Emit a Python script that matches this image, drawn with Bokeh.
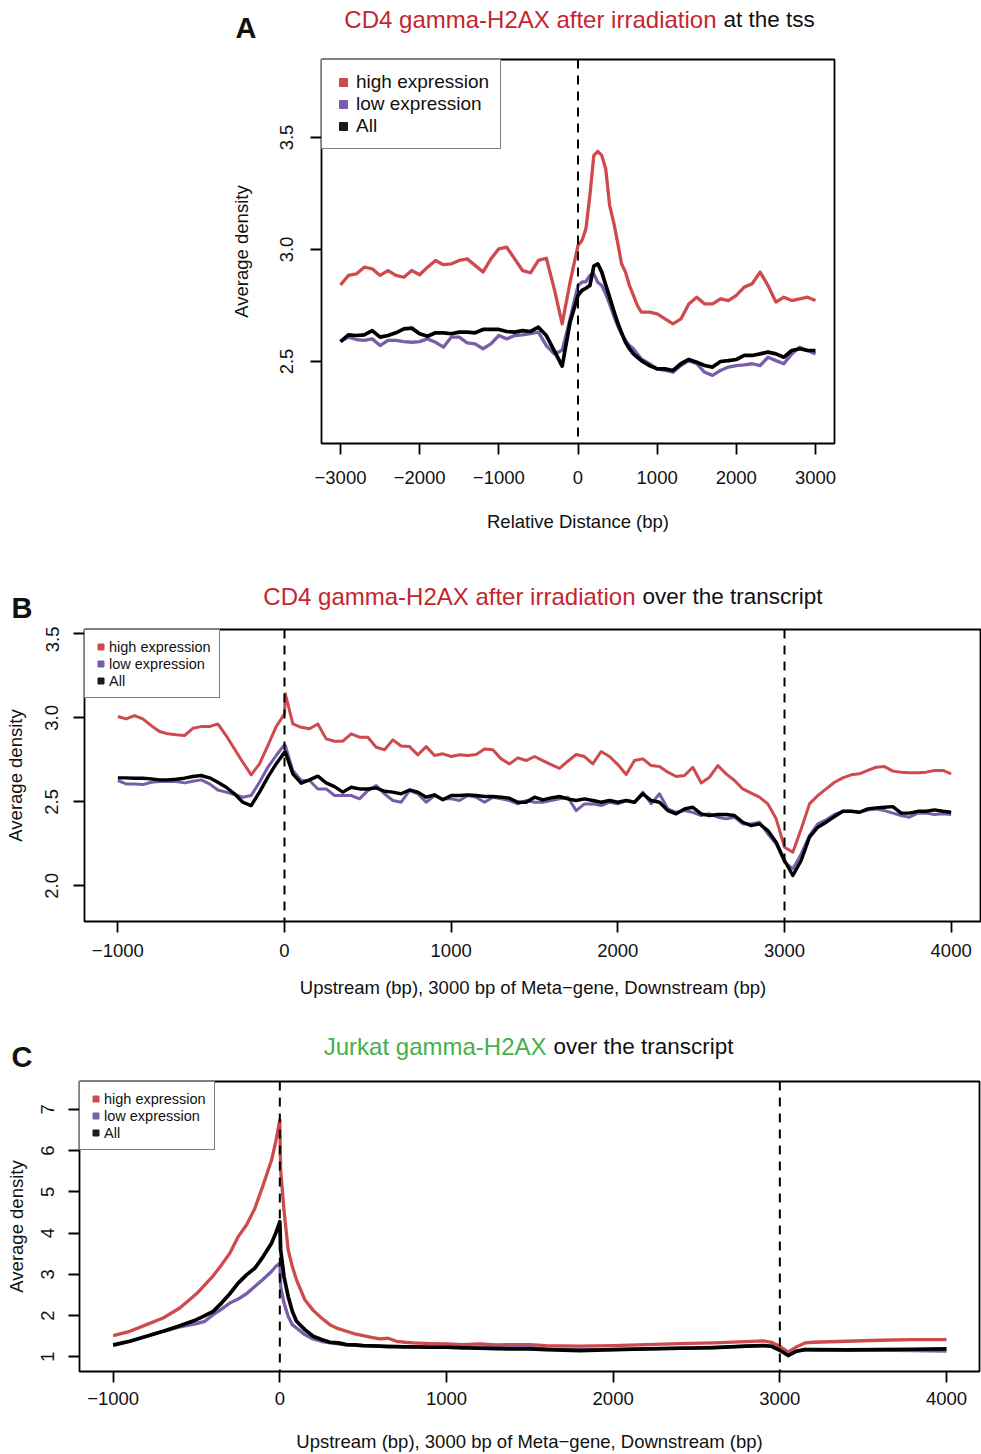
from bokeh.plotting import figure
from bokeh.models import Range1d, FixedTicker, Span, Legend, LegendItem
from bokeh.core.properties import value
from bokeh.layouts import column
from bokeh.embed import file_html
from bokeh.resources import INLINE

FONT = "Liberation Sans"
C_HIGH = "#CF4A4C"
C_LOW = "#785EA8"
C_ALL = "#000000"
C_TITLE_RED = "#C4262E"
C_TITLE_GREEN = "#46B04A"
NAN = float("nan")

SERIES_NAMES = ["high expression", "low expression", "All"]

# ---------------- Panel A : at the TSS ----------------
A_x = [-3000, -2900, -2800, -2700, -2600, -2500, -2400, -2300, -2200, -2100,
       -2000, -1900, -1800, -1700, -1600, -1500, -1400, -1300, -1200, -1100,
       -1000, -900, -800, -700, -600, -500, -400, -300, -200, -100,
       0, 50, 100, 150, 200, 250, 300, 350, 400, 450, 500, 550, 600, 650, 700, 750, 800,
       900, 1000, 1100, 1200, 1300, 1400, 1500, 1600, 1700, 1800, 1900, 2000, 2100,
       2200, 2300, 2400, 2500, 2600, 2700, 2800, 2900, 3000]
A_high = [2.842, 2.884, 2.891, 2.921, 2.914, 2.884, 2.906, 2.884, 2.876, 2.906,
          2.887, 2.921, 2.951, 2.932, 2.936, 2.951, 2.958, 2.929, 2.899, 2.958,
          3.003, 3.010, 2.958, 2.906, 2.896, 2.951, 2.961, 2.824, 2.668, 2.854,
          3.018, 3.040, 3.092, 3.241, 3.420, 3.438, 3.420, 3.360, 3.196, 3.122, 3.033, 2.936, 2.899, 2.839, 2.795, 2.750, 2.720,
          2.720, 2.713, 2.690, 2.668, 2.690, 2.757, 2.787, 2.757, 2.757, 2.780, 2.772, 2.795, 2.832,
          2.847, 2.899, 2.839, 2.765, 2.787, 2.772, 2.780, 2.787, 2.772]
A_low = [2.589, 2.609, 2.598, 2.594, 2.601, 2.571, 2.594, 2.594, 2.589, 2.586,
         2.589, 2.601, 2.586, 2.564, 2.609, 2.609, 2.583, 2.579, 2.557, 2.579,
         2.616, 2.601, 2.616, 2.619, 2.624, 2.631, 2.571, 2.534, 2.550, 2.690,
         2.839, 2.854, 2.857, 2.884, 2.891, 2.854, 2.839, 2.802, 2.757, 2.705, 2.661, 2.624, 2.594, 2.571, 2.557, 2.534, 2.512,
         2.490, 2.467, 2.460, 2.452, 2.482, 2.504, 2.490, 2.452, 2.438, 2.460, 2.475, 2.482, 2.485,
         2.490, 2.482, 2.519, 2.504, 2.490, 2.534, 2.564, 2.549, 2.534]
A_all = [2.589, 2.619, 2.616, 2.619, 2.638, 2.609, 2.616, 2.628, 2.646, 2.649,
         2.624, 2.613, 2.628, 2.628, 2.624, 2.631, 2.631, 2.628, 2.643, 2.643,
         2.643, 2.634, 2.631, 2.638, 2.634, 2.653, 2.616, 2.549, 2.479, 2.676,
         2.795, 2.817, 2.827, 2.839, 2.926, 2.936, 2.899, 2.842, 2.786, 2.729, 2.674, 2.628, 2.586, 2.557, 2.534, 2.519, 2.504,
         2.482, 2.467, 2.467, 2.460, 2.490, 2.509, 2.497, 2.482, 2.475, 2.500, 2.504, 2.509, 2.527,
         2.527, 2.534, 2.542, 2.534, 2.519, 2.549, 2.557, 2.549, 2.549]
A_xticks = [-3000, -2000, -1000, 0, 1000, 2000, 3000]
A_xtick_labels = ["\u22123000", "\u22122000", "\u22121000", "0", "1000", "2000", "3000"]
A_yticks = [2.5, 3.0, 3.5]
A_ytick_labels = ["2.5", "3.0", "3.5"]
A_marks = [0]

# ---------------- Panel B : CD4 over the transcript ----------------
B_x = [-1000, -950, -900, -850, -800, -750, -700, -650, -600, -550,
       -500, -450, -400, -350, -300, -250, -200, -150, -100, -50,
       0, 5,
       50, 100, 150, 200, 250, 300, 350, 400, 450, 500,
       550, 600, 650, 700, 750, 800, 850, 900, 950, 1000,
       1050, 1100, 1150, 1200, 1250, 1300, 1350, 1400, 1450, 1500,
       1550, 1600, 1650, 1700, 1750, 1800, 1850, 1900, 1950, 2000,
       2050, 2100, 2150, 2200, 2250, 2300, 2350, 2400, 2450, 2500,
       2550, 2600, 2650, 2700, 2750, 2800, 2850, 2900, 2950, 3000,
       3050, 3100, 3150, 3200, 3250, 3300, 3350, 3400, 3450, 3500,
       3550, 3600, 3650, 3700, 3750, 3800, 3850, 3900, 3950, 4000]
B_high = [3.008, 2.994, 3.014, 2.994, 2.954, 2.919, 2.905, 2.899, 2.895, 2.938,
          2.948, 2.948, 2.964, 2.895, 2.815, 2.736, 2.661, 2.726, 2.835, 2.948,
          3.024, 3.143,
          2.964, 2.944, 2.935, 2.964, 2.875, 2.861, 2.861, 2.905, 2.885, 2.885,
          2.825, 2.810, 2.869, 2.833, 2.829, 2.780, 2.829, 2.776, 2.786, 2.770,
          2.780, 2.776, 2.782, 2.815, 2.810, 2.756, 2.726, 2.762, 2.746, 2.770,
          2.746, 2.722, 2.700, 2.742, 2.782, 2.770, 2.726, 2.800, 2.770, 2.722,
          2.663, 2.746, 2.756, 2.716, 2.710, 2.677, 2.651, 2.657, 2.706, 2.613,
          2.647, 2.716, 2.667, 2.627, 2.577, 2.552, 2.528, 2.488, 2.399, 2.230,
          2.200, 2.339, 2.488, 2.538, 2.577, 2.617, 2.643, 2.661, 2.667, 2.687,
          2.706, 2.710, 2.683, 2.677, 2.673, 2.673, 2.677, 2.687, 2.687, 2.667]
B_low = [2.627, 2.607, 2.607, 2.603, 2.617, 2.621, 2.623, 2.621, 2.613, 2.623,
         2.631, 2.607, 2.571, 2.558, 2.544, 2.528, 2.538, 2.617, 2.706, 2.776,
         2.841, 2.835,
         2.687, 2.627, 2.627, 2.577, 2.577, 2.538, 2.538, 2.538, 2.518, 2.567,
         2.597, 2.548, 2.508, 2.498, 2.567, 2.548, 2.498, 2.538, 2.518, 2.518,
         2.508, 2.538, 2.528, 2.498, 2.528, 2.518, 2.508, 2.488, 2.508, 2.498,
         2.498, 2.508, 2.518, 2.528, 2.448, 2.488, 2.488, 2.478, 2.498, 2.488,
         2.508, 2.498, 2.558, 2.488, 2.548, 2.458, 2.438, 2.448, 2.438, 2.419,
         2.429, 2.409, 2.399, 2.409, 2.369, 2.369, 2.379, 2.310, 2.250, 2.141,
         2.101, 2.190, 2.300, 2.369, 2.393, 2.425, 2.444, 2.444, 2.438, 2.452,
         2.458, 2.448, 2.433, 2.419, 2.409, 2.433, 2.433, 2.425, 2.429, 2.425]
B_all = [2.643, 2.643, 2.641, 2.641, 2.637, 2.631, 2.631, 2.635, 2.641, 2.651,
         2.657, 2.643, 2.617, 2.587, 2.548, 2.498, 2.478, 2.558, 2.647, 2.726,
         2.796, 2.796,
         2.667, 2.611, 2.631, 2.653, 2.613, 2.591, 2.558, 2.587, 2.577, 2.577,
         2.583, 2.563, 2.558, 2.548, 2.571, 2.558, 2.528, 2.542, 2.512, 2.538,
         2.538, 2.542, 2.538, 2.532, 2.532, 2.528, 2.522, 2.498, 2.498, 2.528,
         2.512, 2.524, 2.532, 2.518, 2.508, 2.518, 2.508, 2.498, 2.508, 2.498,
         2.508, 2.498, 2.548, 2.508, 2.498, 2.448, 2.429, 2.458, 2.468, 2.429,
         2.419, 2.425, 2.425, 2.419, 2.379, 2.359, 2.369, 2.329, 2.260, 2.151,
         2.062, 2.151, 2.290, 2.349, 2.379, 2.413, 2.444, 2.444, 2.438, 2.458,
         2.464, 2.468, 2.472, 2.433, 2.433, 2.444, 2.444, 2.452, 2.444, 2.438]
B_xticks = [-1000, 0, 1000, 2000, 3000, 4000]
B_xtick_labels = ["\u22121000", "0", "1000", "2000", "3000", "4000"]
B_yticks = [2.0, 2.5, 3.0, 3.5]
B_ytick_labels = ["2.0", "2.5", "3.0", "3.5"]
B_marks = [0, 3000]

# ---------------- Panel C : Jurkat over the transcript ----------------
C_x = [-1000, -900, -800, -700, -600, -500, -450, -400, -350, -300,
       -250, -200, -150, -100, -50, -25, 0, 5, 25, 50,
       75, 100, 150, 200, 250, 300, 350, 400, 450, 500,
       550, 600, 650, 700, 750, 800, 900, 1000, 1100, 1200,
       1300, 1400, 1500, 1600, 1800, 2000, 2200, 2400, 2600, 2800,
       2900, 2950, 3000, 3050, 3100, 3150, 3200, 3400, 3600, 3800, 4000]
C_high = [1.515, 1.620, 1.781, 1.942, 2.184, 2.530, 2.747, 2.965, 3.230, 3.512,
          3.915, 4.196, 4.599, 5.163, 5.766, 6.209, 6.749, 5.525, 4.559, 3.593,
          3.190, 2.868, 2.385, 2.127, 1.942, 1.781, 1.684, 1.620, 1.556, 1.515,
          1.475, 1.435, 1.451, 1.378, 1.354, 1.338, 1.322, 1.314, 1.298, 1.314,
          1.290, 1.298, 1.298, 1.274, 1.258, 1.274, 1.298, 1.322, 1.338, 1.370,
          1.386, 1.354, 1.258, 1.113, 1.242, 1.338, 1.354, 1.378, 1.403, 1.419, 1.419]
C_low = [1.274, 1.378, 1.499, 1.620, 1.725, 1.805, 1.862, 2.023, 2.159, 2.304,
         2.401, 2.530, 2.707, 2.884, 3.069, 3.190, 3.271, 2.707, 2.304, 1.982,
         1.781, 1.700, 1.539, 1.435, 1.378, 1.338, 1.314, 1.290, 1.282, 1.274,
         1.266, 1.258, 1.258, 1.250, 1.250, 1.242, 1.242, 1.242, 1.233, 1.233,
         1.233, 1.225, 1.225, 1.193, 1.177, 1.177, 1.193, 1.209, 1.225, 1.258,
         1.274, 1.258, 1.177, 1.056, 1.137, 1.177, 1.161, 1.161, 1.161, 1.153, 1.137]
C_all = [1.290, 1.378, 1.499, 1.620, 1.757, 1.902, 1.998, 2.103, 2.304, 2.530,
         2.787, 2.989, 3.150, 3.432, 3.754, 3.995, 4.277, 3.593, 2.948, 2.465,
         2.103, 1.862, 1.660, 1.499, 1.419, 1.354, 1.338, 1.298, 1.290, 1.274,
         1.266, 1.258, 1.250, 1.250, 1.242, 1.242, 1.233, 1.233, 1.217, 1.209,
         1.201, 1.193, 1.193, 1.177, 1.153, 1.177, 1.193, 1.209, 1.225, 1.258,
         1.274, 1.258, 1.161, 1.032, 1.137, 1.177, 1.177, 1.169, 1.177, 1.185, 1.193]
C_xticks = [-1000, 0, 1000, 2000, 3000, 4000]
C_xtick_labels = ["\u22121000", "0", "1000", "2000", "3000", "4000"]
C_yticks = [1, 2, 3, 4, 5, 6, 7]
C_ytick_labels = ["1", "2", "3", "4", "5", "6", "7"]
C_marks = [0, 3000]

W = 981
SPACE = 7  # width of a space at the title size


def no_align(f):
    if "frame_align" in f.properties():
        f.frame_align = False
    return f


def make_strip(h, pieces):
    """A text-only strip holding the two-coloured title and the panel letter."""
    s = figure(width=W, height=h, x_range=Range1d(0, W), y_range=Range1d(h, 0),
               output_backend="svg", toolbar_location=None, title=None,
               x_axis_location=None, y_axis_location=None, min_border=0)
    s.grid.visible = False
    s.outline_line_color = None
    s.background_fill_color = "white"
    s.border_fill_color = "white"
    for (x, y, txt, align, color, size, style) in pieces:
        s.text(x=[x], y=[y], text=[txt], text_align=align, text_baseline="alphabetic",
               text_color=color, text_font=value(FONT), text_font_size=size,
               text_font_style=style)
    return no_align(s)


def title_pieces(split_x, base_y, t1, t2, c1, letter, lx, ly):
    return [(split_x, base_y, t1, "right", c1, "24px", "normal"),
            (split_x + SPACE, base_y, t2, "left", "#111111", "22.5px", "normal"),
            (lx, ly, letter, "left", "#111111", "29px", "bold")]


def make_panel(cfg):
    p = figure(width=W, height=cfg["height"],
               x_range=Range1d(*cfg["xr"]), y_range=Range1d(*cfg["yr"]),
               output_backend="svg", toolbar_location=None,
               min_border_left=cfg["bl"], min_border_right=cfg["br"],
               min_border_top=cfg["bt"], min_border_bottom=cfg["bb"],
               x_axis_label=cfg["xlabel"], y_axis_label="Average density")
    p.background_fill_color = "white"
    p.border_fill_color = "white"
    p.outline_line_color = "black"
    p.outline_line_width = 1.8
    p.grid.visible = False

    xa, ya = p.xaxis[0], p.yaxis[0]
    xa.ticker = FixedTicker(ticks=cfg["xt"])
    xa.major_label_overrides = dict(zip(cfg["xt"], cfg["xtl"]))
    ya.ticker = FixedTicker(ticks=cfg["yt"])
    ya.major_label_overrides = dict(zip(cfg["yt"], cfg["ytl"]))
    for ax in (xa, ya):
        ax.axis_line_color = None
        ax.major_tick_line_color = "black"
        ax.major_tick_line_width = 1.8
        ax.major_tick_out = 11
        ax.major_tick_in = 0
        ax.minor_tick_line_color = None
        ax.major_label_text_font = FONT
        ax.major_label_text_font_size = "18.5px"
        ax.major_label_text_color = "#111111"
        ax.axis_label_text_font = FONT
        ax.axis_label_text_font_size = "18.5px"
        ax.axis_label_text_font_style = "normal"
        ax.axis_label_text_color = "#111111"
    ya.major_label_orientation = "vertical"
    xa.major_label_standoff = cfg["xls"]
    xa.axis_label_standoff = cfg["xas"]
    ya.major_label_standoff = cfg["yls"]
    ya.axis_label_standoff = cfg["yas"]

    x = cfg["x"]
    lw = cfg["lw"]
    p.line(x, cfg["high"], line_color=C_HIGH, line_width=lw, line_join="round")
    p.line(x, cfg["low"], line_color=C_LOW, line_width=lw, line_join="round")
    p.line(x, cfg["all"], line_color=C_ALL, line_width=lw + 0.4, line_join="round")

    for m in cfg["marks"]:
        p.add_layout(Span(location=m, dimension="height", line_color="black",
                          line_dash="9 7", line_width=2))

    # legend with filled squares (like R's pch=15); renderers hold no visible point
    items = []
    for name, col in zip(SERIES_NAMES, [C_HIGH, C_LOW, "#1a1a1a"]):
        r = p.scatter(x=[NAN], y=[NAN], marker="square", fill_color=col, line_color=col)
        items.append(LegendItem(label=name, renderers=[r]))
    lg = Legend(items=items, location="top_left", margin=0,
                padding=cfg["lpad"], spacing=0,
                glyph_width=cfg["lgw"], glyph_height=cfg["lh"],
                label_height=cfg["lh"], label_standoff=cfg["lso"],
                label_text_font=FONT, label_text_font_size=cfg["lfs"],
                label_text_color="#111111",
                border_line_color="black", border_line_width=1.6,
                background_fill_color="white", background_fill_alpha=1.0)
    p.add_layout(lg)
    return no_align(p)


sA = make_strip(50, title_pieces(716, 19, "CD4 gamma-H2AX after irradiation", "at the tss",
                                 C_TITLE_RED, "A", 235, 27))
pA = make_panel(dict(height=520, xr=(-3240, 3240), yr=(2.134, 3.848),
                     bl=321, br=147, bt=9, bb=127,
                     xlabel="Relative Distance (bp)",
                     xt=A_xticks, xtl=A_xtick_labels, yt=A_yticks, ytl=A_ytick_labels,
                     xls=16, xas=24, yls=17, yas=26,
                     x=A_x, high=A_high, low=A_low, all=A_all, lw=3.3, marks=A_marks,
                     lpad=11, lgw=20, lh=22, lso=3, lfs="19px"))

sB = make_strip(56, title_pieces(635, 26, "CD4 gamma-H2AX after irradiation", "over the transcript",
                                 C_TITLE_RED, "B", 11, 37))
pB = make_panel(dict(height=394, xr=(-1200, 4182), yr=(1.788, 3.526),
                     bl=84, br=0, bt=3, bb=99,
                     xlabel="Upstream (bp), 3000 bp of Meta\u2212gene, Downstream (bp)",
                     xt=B_xticks, xtl=B_xtick_labels, yt=B_yticks, ytl=B_ytick_labels,
                     xls=11, xas=17, yls=15, yas=17,
                     x=B_x, high=B_high, low=B_low, all=B_all, lw=3.0, marks=B_marks,
                     lpad=8, lgw=15, lh=17, lso=1, lfs="14.5px"))

sC = make_strip(56, title_pieces(546, 26, "Jurkat gamma-H2AX", "over the transcript",
                                 C_TITLE_GREEN, "C", 11, 36))
pC = make_panel(dict(height=378, xr=(-1202, 4198), yr=(0.645, 7.677),
                     bl=79, br=2, bt=5, bb=82,
                     xlabel="Upstream (bp), 3000 bp of Meta\u2212gene, Downstream (bp)",
                     xt=C_xticks, xtl=C_xtick_labels, yt=C_yticks, ytl=C_ytick_labels,
                     xls=9, xas=23, yls=14, yas=12,
                     x=C_x, high=C_high, low=C_low, all=C_all, lw=3.3, marks=C_marks,
                     lpad=8, lgw=15, lh=17, lso=1, lfs="14.5px"))

layout = column(sA, pA, sB, pB, sC, pC, spacing=0)
open("out.html", "w").write(file_html(layout, INLINE))
